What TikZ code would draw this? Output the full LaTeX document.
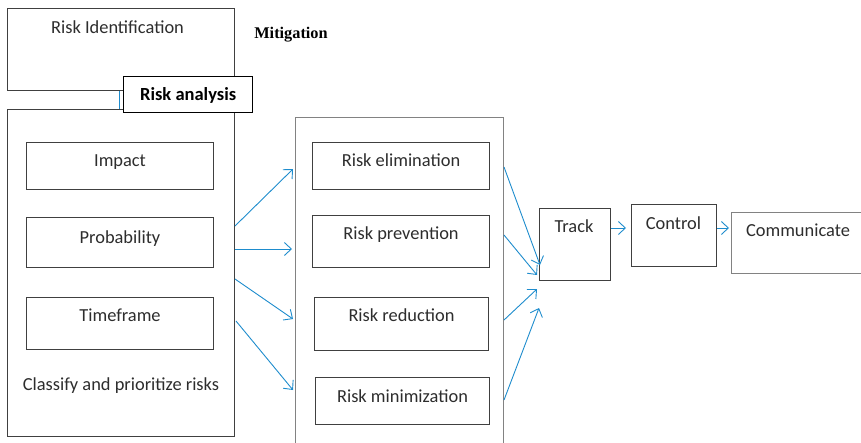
\documentclass[tikz,border=0pt]{standalone}
\usepackage{fontspec}
\setmainfont{Carlito}
\newfontfamily\headserif{Liberation Serif}
\usetikzlibrary{arrows.meta,calc}
\definecolor{flowblue}{RGB}{30,140,205}
\definecolor{edgegray}{RGB}{64,64,64}
\definecolor{framegray}{RGB}{130,130,130}
\definecolor{textgray}{RGB}{45,45,45}
\begin{document}
\begin{tikzpicture}[x=1pt,y=-1pt,
  box/.style={draw=edgegray, line width=1pt, fill=white, inner sep=0pt, anchor=north west},
  frame/.style={box, draw=framegray},
  lbl/.style={font=\fontsize{18.4}{20}\selectfont, text=textgray, inner sep=0pt, text height=12pt, text depth=4pt},
  flow/.style={draw=flowblue, line width=0.9pt, -{Straight Barb[length=7pt,width=13pt]}}]

\useasboundingbox (0,0) rectangle (861,442);
\clip (0,0) rectangle (861,442);

% identification and analysis
\node[box, minimum width=227pt, minimum height=82pt] (ri) at (7,8) {};
\node[box, minimum width=227pt, minimum height=327pt] (an) at (7,109) {};
\draw[flowblue, line width=1pt] ($(ri.south west)+(112,0)$) -- ($(an.north west)+(112,0)$);
\node[box, draw=black, line width=1.3pt, minimum width=129pt, minimum height=36pt] (ra) at (123,76) {};
\node[font=\bfseries\fontsize{18.5}{20}\selectfont, inner sep=0pt, text height=12pt, text depth=4pt] at ($(ra.center)+(0,2)$) {Risk analysis};
\node[lbl] at ($(ri.north)+(-3.5,21)$) {Risk Identification};

\node[box, minimum width=187pt, minimum height=47pt] (imp) at (26,142) {};
\node[box, minimum width=187pt, minimum height=50pt] (prob) at (26,217) {};
\node[box, minimum width=187pt, minimum height=52pt] (tf) at (26,297) {};
\node[lbl] at ($(imp.north)+(0,20)$) {Impact};
\node[lbl] at ($(prob.north)+(0,22)$) {Probability};
\node[lbl] at ($(tf.north)+(0,20)$) {Timeframe};
\node[lbl] at ($(an.north)+(0,277)$) {Classify and prioritize risks};

% mitigation
\node[font=\headserif\bfseries\fontsize{16.3}{18}\selectfont, inner sep=0pt] (mtitle) at (291,35) {Mitigation};
\node[frame, minimum width=208pt, minimum height=343pt] (mit) at (295,117) {};
\node[box, minimum width=177pt, minimum height=47pt] (elim) at (312,142) {};
\node[box, minimum width=177pt, minimum height=52pt] (prev) at (312,215) {};
\node[box, minimum width=174pt, minimum height=53pt] (red) at (314,297) {};
\node[box, minimum width=174pt, minimum height=47pt] (mini) at (315,377) {};
\node[lbl] at ($(elim.north)+(0,20)$) {Risk elimination};
\node[lbl] at ($(prev.north)+(0,20)$) {Risk prevention};
\node[lbl] at ($(red.north)+(0,20)$) {Risk reduction};
\node[lbl] at ($(mini.north)+(0,21)$) {Risk minimization};

% follow-up steps
\node[box, minimum width=71pt, minimum height=72pt] (trk) at (539,208) {};
\node[box, minimum width=85pt, minimum height=62pt] (ctl) at (631,204) {};
\node[frame, minimum width=149pt, minimum height=61pt] (com) at (731,212) {};
\node[lbl] at ($(trk.north)+(-1,20)$) {Track};
\node[lbl] at ($(ctl.north)+(-0.5,21)$) {Control};
\node[lbl] at ($(com.north west)+(67,20)$) {Communicate};

% connectors
\draw[flow] ($(an.north east)+(0,117)$) -- ($(mit.north west)+(-2,52)$);
\draw[flow] ($(an.north east)+(0,140)$) -- ($(mit.north west)+(-3,132)$);
\draw[flow] ($(an.north east)+(0,170)$) -- ($(mit.north west)+(-2,202)$);
\draw[flow] ($(an.north east)+(1,212)$) -- ($(mit.north west)+(-2,273)$);

\draw[flow] ($(mit.north east)+(0,50)$) -- ($(trk.north west)+(1,57)$);
\draw[flow] ($(mit.north east)+(0,118)$) -- ($(trk.north west)+(-2,67)$);
\draw[flow] ($(mit.north east)+(0,203)$) -- ($(trk.north west)+(-2,81)$);
\draw[flow] ($(mit.north east)+(0,283)$) -- ($(trk.north west)+(0,100)$);

\draw[flow] ($(trk.north east)+(0,20)$) -- ($(ctl.north west)+(-5,24)$);
\draw[flow] ($(ctl.north east)+(0,24)$) -- ($(com.north west)+(-2,16)$);
\end{tikzpicture}
\end{document}
